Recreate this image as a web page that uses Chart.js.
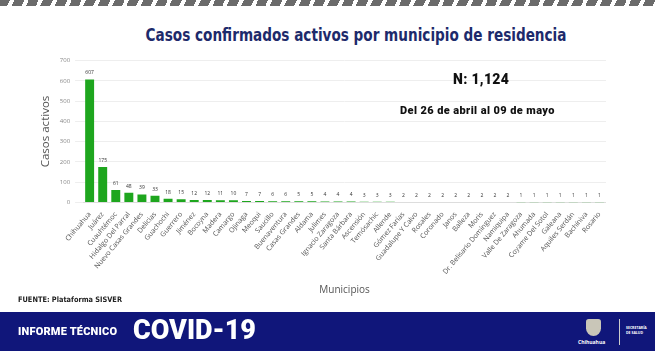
<!DOCTYPE html>
<html>
<head>
<meta charset="utf-8">
<script src="https://cdn.jsdelivr.net/npm/chart.js@4"></script>
<style>
  html, body { margin: 0; padding: 0; }
  body { width: 655px; height: 351px; position: relative; overflow: hidden; background: #fff; font-family: "Open Sans", sans-serif; }
  #stripe { position: absolute; left: 0; top: 0; width: 655px; height: 6px;
    background: repeating-linear-gradient(115deg, #6b6b6b 0 9px, #fff 9px 13px); }
  #title { position: absolute; left: 0; width: 712px; top: 24px; text-align: center; }
  #title span { display: inline-block; transform: scaleX(0.8); color: #1d2a6b;
    font-family: "DejaVu Sans", sans-serif; font-weight: bold; font-size: 17px; }
  #wrap { position: absolute; left: 35px; top: 52px; width: 571px; height: 248px; }
  #n { position: absolute; left: 453px; top: 71px; font-family: "Roboto", sans-serif; font-weight: 900; font-size: 14px; color: #111; letter-spacing: 0.3px; }
  #rango { position: absolute; left: 400px; top: 104px; font-family: "Roboto", sans-serif; font-weight: 900; font-size: 11px; color: #111; letter-spacing: 0.4px; }
  #fuente { position: absolute; left: 18px; top: 295px; font-family: "DejaVu Sans", sans-serif; font-weight: bold; font-size: 7.5px; color: #222; transform: scaleX(0.88); transform-origin: left; }
  #footer { position: absolute; left: 0; top: 312px; width: 655px; height: 39px; background: #10167a; }
  #inf { position: absolute; left: 18px; top: 13px; color: #fff; font-family: "Roboto", sans-serif; font-weight: 900; font-size: 11px; letter-spacing: 0.2px; }
  #covid { position: absolute; left: 133px; top: 2px; color: #fff; font-family: "Roboto", sans-serif; font-weight: 900; font-size: 27px; }
  #shield { position: absolute; left: 586px; top: 7px; width: 15px; height: 17px; background: #c9c6b8; border-radius: 3px 3px 8px 8px; }
  #chih { position: absolute; left: 578px; top: 27px; color: #fff; font-size: 5px; font-weight: bold; }
  #vline { position: absolute; left: 619px; top: 7px; width: 1px; height: 26px; background: #ccc; }
  #sec { position: absolute; left: 626px; top: 13px; color: #fff; font-size: 3.5px; line-height: 5px; font-weight: bold; }
</style>
</head>
<body>
<div id="stripe"></div>
<div id="title"><span>Casos confirmados activos por municipio de residencia</span></div>
<div id="wrap"><canvas id="grafica"></canvas></div>
<div id="n">N: 1,124</div>
<div id="rango">Del 26 de abril al 09 de mayo</div>
<div id="fuente">FUENTE: Plataforma SISVER</div>
<div id="footer">
  <div id="inf">INFORME TÉCNICO</div>
  <div id="covid">COVID-19</div>
  <div id="shield"></div>
  <div id="chih">Chihuahua</div>
  <div id="vline"></div>
  <div id="sec">SECRETARÍA<br>DE SALUD</div>
</div>
<script>
const municipios = ['Chihuahua', 'Juárez', 'Cuauhtémoc', 'Hidalgo Del Parral', 'Nuevo Casas Grandes',
  'Delicias', 'Guachochi', 'Guerrero', 'Jiménez', 'Bocoyna', 'Madera', 'Camargo', 'Ojinaga', 'Meoqui',
  'Saucillo', 'Buenaventura', 'Casas Grandes', 'Aldama', 'Julimes', 'Ignacio Zaragoza', 'Santa Bárbara',
  'Ascensión', 'Temósachic', 'Allende', 'Gómez Farías', 'Guadalupe Y Calvo', 'Rosales', 'Coronado',
  'Janos', 'Balleza', 'Moris', 'Dr. Belisario Domínguez', 'Namiquipa', 'Valle De Zaragoza', 'Ahumada',
  'Coyame Del Sotol', 'Galeana', 'Aquiles Serdán', 'Bachíniva', 'Rosario'];
const casosActivos = [607, 175, 61, 48, 39, 33, 18, 15, 12, 12, 11, 10, 7, 7, 6, 6, 5, 5, 4, 4, 4,
  3, 3, 3, 2, 2, 2, 2, 2, 2, 2, 2, 2, 1, 1, 1, 1, 1, 1, 1];
const ticksY = [0, 100, 200, 300, 400, 500, 600, 700];

// etiquetas de valor encima de cada barra
const etiquetas = {
  id: 'etiquetas',
  afterDatasetsDraw(chart) {
    const ctx = chart.ctx;
    const meta = chart.getDatasetMeta(0);
    ctx.save();
    ctx.font = '5px "Open Sans", sans-serif';
    ctx.fillStyle = '#333';
    ctx.textAlign = 'center';
    ctx.textBaseline = 'bottom';
    meta.data.forEach(function(bar, i) {
      ctx.fillText(casosActivos[i], bar.x, bar.y - 4);
    });
    ctx.restore();
  }
};

new Chart(document.getElementById('grafica'), {
  type: 'bar',
  data: {
    labels: municipios,
    datasets: [{
      data: casosActivos,
      backgroundColor: '#1ea61e',
      borderWidth: 0,
      barPercentage: 0.72,
      categoryPercentage: 0.95
    }]
  },
  options: {
    responsive: true,
    maintainAspectRatio: false,
    animation: false,
    layout: { padding: { top: 0, right: 0 } },
    plugins: { legend: { display: false }, tooltip: { enabled: false } },
    scales: {
      x: {
        grid: { display: false },
        border: { color: '#ddd' },
        ticks: { color: '#555', font: { size: 7, family: '"Open Sans", sans-serif' }, minRotation: 50, maxRotation: 50, autoSkip: false, padding: 0 },
        title: { display: true, text: 'Municipios', color: '#555', font: { size: 10, family: '"Open Sans", sans-serif' }, padding: { top: 8 } }
      },
      y: {
        min: 0, max: 700,
        afterBuildTicks(axis) { axis.ticks = ticksY.map(v => ({ value: v })); },
        grid: { color: '#eee' },
        border: { display: false },
        ticks: { color: '#888', font: { size: 6, family: '"Open Sans", sans-serif' }, padding: 5 },
        title: { display: true, text: 'Casos activos', color: '#555', font: { size: 11.5, family: '"Open Sans", sans-serif' }, padding: { bottom: 2 } }
      }
    }
  },
  plugins: [etiquetas]
});
</script>
</body>
</html>
